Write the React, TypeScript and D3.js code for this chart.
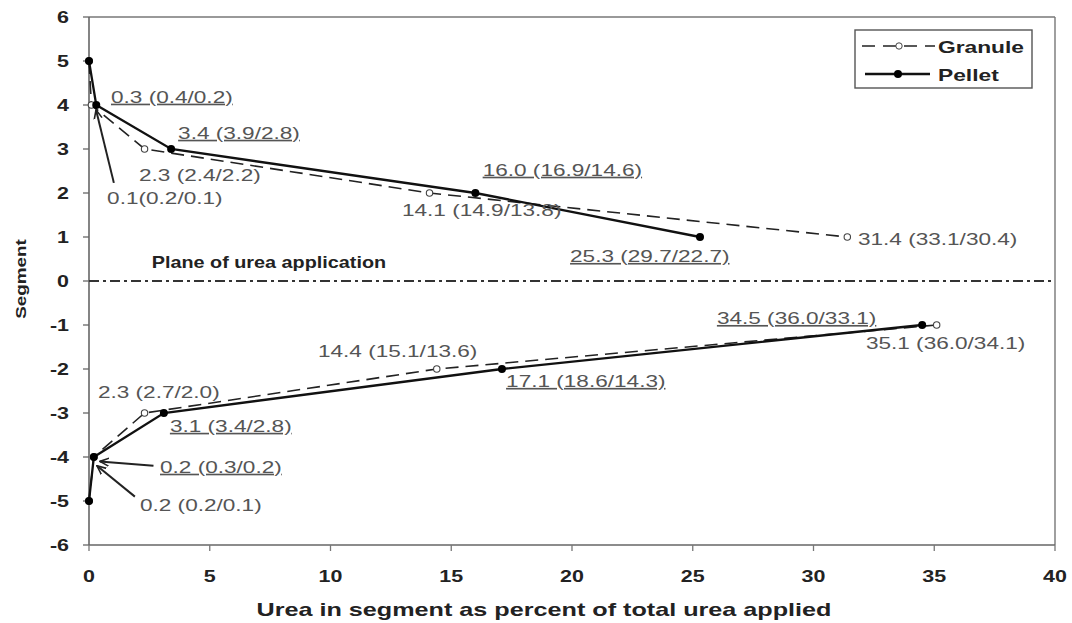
import React from "react";
import * as d3 from "d3";

// Segments (y) for upper and lower branches
const upperSegments = [5, 4, 3, 2, 1];
const lowerSegments = [-1, -2, -3, -4, -5];

// Percent of total urea in segment
const granuleUpper = [0, 0.1, 2.3, 14.1, 31.4];
const granuleLower = [35.1, 14.4, 2.3, 0.2, 0];
const pelletUpper = [0, 0.3, 3.4, 16.0, 25.3];
const pelletLower = [34.5, 17.1, 3.1, 0.2, 0];

const xTicks = [0, 5, 10, 15, 20, 25, 30, 35, 40];
const yTicks = [-6, -5, -4, -3, -2, -1, 0, 1, 2, 3, 4, 5, 6];

// Annotation texts (pellet labels underlined)
const labelTexts = [
  "0.3 (0.4/0.2)", "3.4 (3.9/2.8)", "2.3 (2.4/2.2)", "0.1(0.2/0.1)",
  "16.0 (16.9/14.6)", "14.1 (14.9/13.8)", "25.3 (29.7/22.7)", "31.4 (33.1/30.4)",
  "34.5 (36.0/33.1)", "35.1 (36.0/34.1)", "14.4 (15.1/13.6)", "17.1 (18.6/14.3)",
  "2.3 (2.7/2.0)", "3.1 (3.4/2.8)", "0.2 (0.3/0.2)", "0.2 (0.2/0.1)",
];
const labelUnderlined = [true, true, false, false, true, false, true, false, true, false, false, true, false, true, true, false];

// layout: label anchor (data coords) for each text
const labelPos: [number, number][] = [
  [0.91, 4.05], [3.69, 3.23], [2.07, 2.27], [0.75, 1.75],
  [16.3, 2.39], [12.96, 1.48], [19.92, 0.43], [31.84, 0.82],
  [26.0, -0.98], [32.17, -1.55], [9.48, -1.73], [17.27, -2.41],
  [0.37, -2.66], [3.35, -3.43], [2.94, -4.36], [2.11, -5.23],
];

// arrows: [fromX, fromY, toX, toY] in data coords
const arrows: [number, number, number, number][] = [
  [1.03, 2.23, 0.29, 3.89],
  [2.67, -4.2, 0.45, -4.1],
  [1.9, -4.9, 0.33, -4.2],
];

const W = 1072, H = 623;
const x = d3.scaleLinear().domain([0, 40]).range([89, 1055]);
const y = d3.scaleLinear().domain([-6, 6]).range([545, 17]);

const font = "Liberation Sans, Arial, sans-serif";

function ST(props: { x: number; y: number; sx: number; children: React.ReactNode; rotate?: number; [k: string]: any }) {
  const { x: tx, y: ty, sx, rotate, children, ...rest } = props;
  const tr = `translate(${tx},${ty})` + (rotate ? ` rotate(${rotate})` : "") + ` scale(${sx},1)`;
  return <text transform={tr} {...rest}>{children}</text>;
}

export default function App() {
  const line = d3.line<[number, number]>().x(d => x(d[0])).y(d => y(d[1]));
  const zip = (xs: number[], ys: number[]) => xs.map((v, i) => [v, ys[i]] as [number, number]);
  const gU = zip(granuleUpper, upperSegments);
  const gL = zip(granuleLower, lowerSegments);
  const pU = zip(pelletUpper, upperSegments);
  const pL = zip(pelletLower, lowerSegments);

  return (
    <svg width={W} height={H} style={{ position: "absolute", left: 0, top: 0, background: "#fff" }} fontFamily={font}>
      <defs>
        <marker id="ah" viewBox="0 0 10 10" refX="9" refY="5" markerWidth="10" markerHeight="10" orient="auto-start-reverse" markerUnits="userSpaceOnUse">
          <path d="M0,1 L9,5 L0,9" fill="none" stroke="#222" strokeWidth="1.6" />
        </marker>
      </defs>
      {/* frame */}
      <line x1={x(0)} x2={x(40)} y1={y(6)} y2={y(6)} stroke="#777" strokeWidth={1.4} />
      <line x1={x(40)} x2={x(40)} y1={y(6)} y2={y(-6)} stroke="#777" strokeWidth={1.4} />
      <line x1={x(0)} x2={x(0)} y1={y(6)} y2={y(-6)} stroke="#666" strokeWidth={1.6} />
      <line x1={x(0)} x2={x(40)} y1={y(-6)} y2={y(-6)} stroke="#666" strokeWidth={1.6} />
      {yTicks.map(t => (
        <g key={"y" + t}>
          <line x1={x(0) - 6} x2={x(0)} y1={y(t)} y2={y(t)} stroke="#666" strokeWidth={1.3} />
          <ST x={x(0) - 20} y={y(t) + 6} sx={1.3} textAnchor="end" fontSize={16.5} fontWeight="bold" fill="#222">{t}</ST>
        </g>
      ))}
      {xTicks.map(t => (
        <g key={"x" + t}>
          <line x1={x(t)} x2={x(t)} y1={y(-6)} y2={y(-6) + 6} stroke="#777" strokeWidth={1.3} />
          <ST x={x(t)} y={582} sx={1.3} textAnchor="middle" fontSize={16.5} fontWeight="bold" fill="#222">{t}</ST>
        </g>
      ))}
      <ST x={544} y={616} sx={1.4} textAnchor="middle" fontSize={18} fontWeight="bold" fill="#222">Urea in segment as percent of total urea applied</ST>
      <ST x={26} y={279} rotate={-90} sx={1.22} textAnchor="middle" fontSize={15.5} fontWeight="bold" fill="#222">Segment</ST>

      {/* plane of application */}
      <line x1={x(0)} x2={x(40)} y1={y(0)} y2={y(0)} stroke="#333" strokeWidth={2} strokeDasharray="10,4,3,4" />
      <ST x={x(2.6)} y={268} sx={1.2} fontSize={16.5} fontWeight="bold" fill="#222">Plane of urea application</ST>

      {/* granule */}
      <path d={line(gU) || ""} fill="none" stroke="#222" strokeWidth={1.6} strokeDasharray="13,7" />
      <path d={line(gL) || ""} fill="none" stroke="#222" strokeWidth={1.6} strokeDasharray="13,7" />
      {[...gU, ...gL].map((d, i) => (
        <circle key={"g" + i} cx={x(d[0])} cy={y(d[1])} r={3.2} fill="#fff" stroke="#444" strokeWidth={1.1} />
      ))}
      {/* pellet */}
      <path d={line(pU) || ""} fill="none" stroke="#111" strokeWidth={2.3} />
      <path d={line(pL) || ""} fill="none" stroke="#111" strokeWidth={2.3} />
      {[...pU, ...pL].map((d, i) => (
        <circle key={"p" + i} cx={x(d[0])} cy={y(d[1])} r={4} fill="#000" />
      ))}

      {/* arrows */}
      {arrows.map((a, i) => (
        <line key={"a" + i} x1={x(a[0])} y1={y(a[1])} x2={x(a[2])} y2={y(a[3])} stroke="#222" strokeWidth={2} markerEnd="url(#ah)" />
      ))}

      {/* labels */}
      {labelTexts.map((t, i) => (
        <ST key={"l" + i} x={x(labelPos[i][0])} y={y(labelPos[i][1])} sx={1.37} fontSize={16.5} fill="#555"
          textDecoration={labelUnderlined[i] ? "underline" : undefined}>{t}</ST>
      ))}

      {/* legend */}
      <rect x={855} y={30} width={177} height={58} fill="#fff" stroke="#555" strokeWidth={1.4} />
      <line x1={862} x2={935} y1={46} y2={46} stroke="#222" strokeWidth={1.6} strokeDasharray="13,8" />
      <circle cx={899} cy={46} r={3.2} fill="#fff" stroke="#444" />
      <ST x={938} y={53} sx={1.38} fontSize={16.5} fontWeight="bold" fill="#222">Granule</ST>
      <line x1={865} x2={930} y1={74} y2={74} stroke="#111" strokeWidth={2.3} />
      <circle cx={898} cy={74} r={4} fill="#000" />
      <ST x={938} y={81} sx={1.38} fontSize={16.5} fontWeight="bold" fill="#222">Pellet</ST>
    </svg>
  );
}
